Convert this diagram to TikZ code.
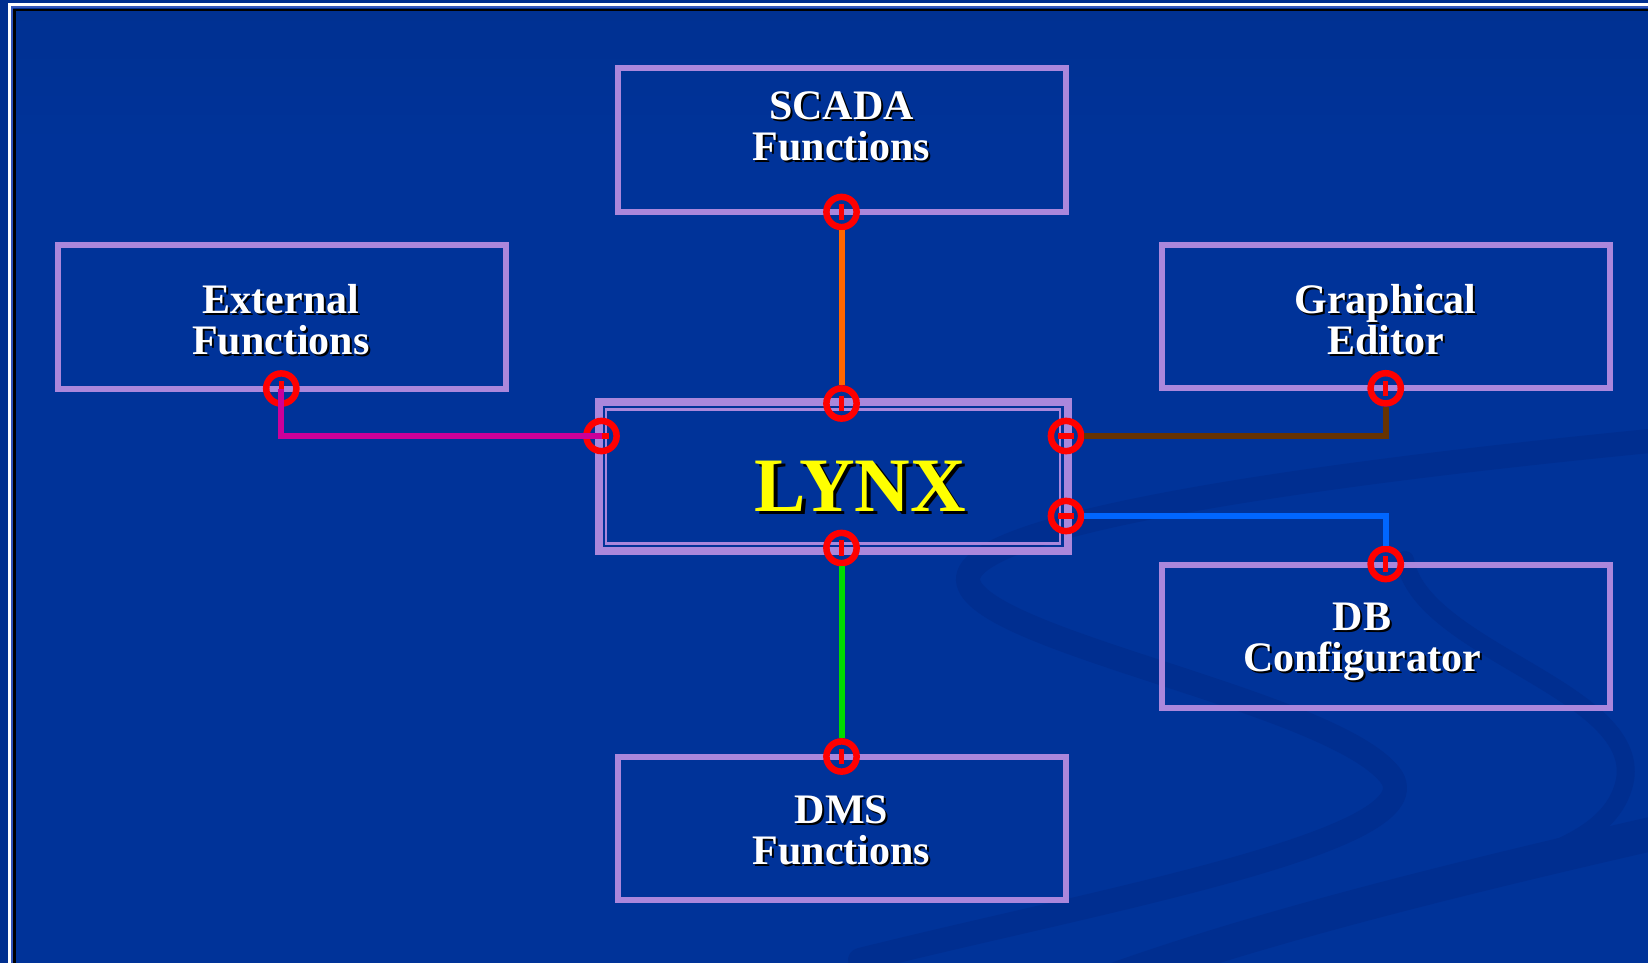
\documentclass[tikz,border=0pt]{standalone}
\usepackage{fontspec}
\setmainfont{Liberation Serif}
\usetikzlibrary{calc}
\definecolor{bgtop}{RGB}{0,40,120}
\definecolor{bgmain}{RGB}{0,51,153}
\definecolor{bgout}{RGB}{0,47,143}
\definecolor{swoosh}{RGB}{0,46,144}
\definecolor{lav}{RGB}{170,135,220}
\definecolor{cOrange}{RGB}{255,102,0}
\definecolor{cMag}{RGB}{204,0,153}
\definecolor{cBrown}{RGB}{102,51,0}
\definecolor{cBlue}{RGB}{0,102,255}
\definecolor{cGreen}{RGB}{0,220,0}
\definecolor{cLynx}{RGB}{255,255,0}
\definecolor{frameblue}{RGB}{50,85,185}
\pgfdeclareverticalshading{bgshade}{100bp}{color(0bp)=(bgmain); color(68bp)=(bgmain); color(100bp)=(bgtop)}
\newcommand\shd[1]{\rlap{\kern2pt\raisebox{-2pt}[0pt][0pt]{\textcolor{black}{#1}}}#1}
\newcommand\shdL[1]{\rlap{\kern3.5pt\raisebox{-3.5pt}[0pt][0pt]{\textcolor{black}{#1}}}#1}
\begin{document}
\begin{tikzpicture}[x=1pt,y=-1pt,
  box/.style={draw=lav,line width=6pt,rectangle,minimum width=448pt,minimum height=143.5pt,inner sep=0pt},
  lynxout/.style={draw=lav,line width=8pt,rectangle,minimum width=469.3pt,minimum height=148.7pt,inner sep=0pt},
  lynxin/.style={draw=lav,line width=2.6pt,rectangle,minimum width=454pt,minimum height=134pt,inner sep=0pt},
  lbl/.style={text=white,font=\bfseries\fontsize{42}{40.7}\selectfont,align=center,anchor=base,inner sep=0pt},
  lynxlbl/.style={text=cLynx,font=\bfseries\fontsize{77}{77}\selectfont,anchor=base,inner sep=0pt},
  port/.style={circle,draw=red,line width=6.5pt,minimum size=30.2pt,inner sep=0pt},
  portv/.style={port,path picture={\draw[red,line width=5.5pt] (path picture bounding box.center) ++(0,-7.8) -- ++(0,15.6);}},
  porth/.style={port,path picture={\draw[red,line width=5.5pt] (path picture bounding box.center) ++(-7.8,0) -- ++(15.6,0);}},
  conn/.style={line width=6pt},
  swooshline/.style={draw=swoosh,line cap=round}
]
\useasboundingbox (0,0) rectangle (1648,963);
\clip (0,0) rectangle (1648,963);
% background
\fill[bgout] (0,0) rectangle (1648,963);
\shade[shading=bgshade] (12,7) rectangle (1660,975);
% swooshes
\draw[swooshline,line width=24pt] (1660,440) .. controls (1350,470) and (965,520) .. (968,580) .. controls (972,640) and (1330,700) .. (1390,775) .. controls (1440,840) and (1100,900) .. (860,960);
\draw[swooshline,line width=34pt] (1660,832) .. controls (1450,880) and (1250,930) .. (1100,985);
\draw[swooshline,line width=18pt] (1405,560) .. controls (1420,650) and (1640,690) .. (1625,780) .. controls (1615,830) and (1560,850) .. (1500,870);
% frame
\draw[white,line width=2.8pt] (9.7,4.3) rectangle (1700,1000);
\draw[frameblue,line width=2.4pt] (12.2,7.2) rectangle (1700,1000);
\draw[black,line width=2.5pt] (14.7,10.2) rectangle (1700,1000);
% boxes
\node[box] (scada) at (841.5,140.25) {};
\node[box] (ext) at (281.5,316.75) {};
\node[box] (graph) at (1385.7,316.5) {};
\node[box] (db) at (1385.7,636.25) {};
\node[box] (dms) at (841.5,828.25) {};
\node[lynxout] (lynx) at (833.35,476.35) {};
\node[lynxin] (lynxinner) at (833,476.3) {};
% ports
\node[portv] (pScada) at (841.5,212) {};
\node[portv] (pLynxT) at (841.5,403.5) {};
\node[portv] (pLynxB) at (841.5,548) {};
\node[portv] (pDms) at (841.5,756.5) {};
\node[porth] (pLynxL) at (601.5,436) {};
\node[porth] (pLynxR1) at (1066,436) {};
\node[porth] (pLynxR2) at (1066,516) {};
\node[portv] (pExt) at (281.3,388.5) {};
\node[portv] (pGraph) at (1385.7,388.3) {};
\node[portv] (pDb) at (1385.7,564) {};
% connectors
\draw[conn,cOrange] (pScada) -- (pLynxT);
\draw[conn,cGreen] (pLynxB) -- (pDms);
\draw[conn,cBrown] (pLynxR1) -| (pGraph);
\draw[conn,cBlue] (pLynxR2) -| (pDb);
\draw[conn,cMag] (pExt.center) |- (pLynxL.center);
% labels (anchor base = baseline of last line)
\node[lbl] (tScada) at (841.5,160) {\shd{SCADA}\\\shd{Functions}};
\node[lbl] (tExt) at (281,354) {\shd{External}\\\shd{Functions}};
\node[lbl] (tGraph) at (1385.5,354) {\shd{Graphical}\\\shd{Editor}};
\node[lbl] (tDb) at (1362,671) {\shd{DB}\\\shd{Configurator}};
\node[lbl] (tDms) at (841.5,864.5) {\shd{DMS}\\\shd{Functions}};
\node[lynxlbl] (tLynx) at (860.5,511) {\shdL{LYNX}};
\end{tikzpicture}
\end{document}
